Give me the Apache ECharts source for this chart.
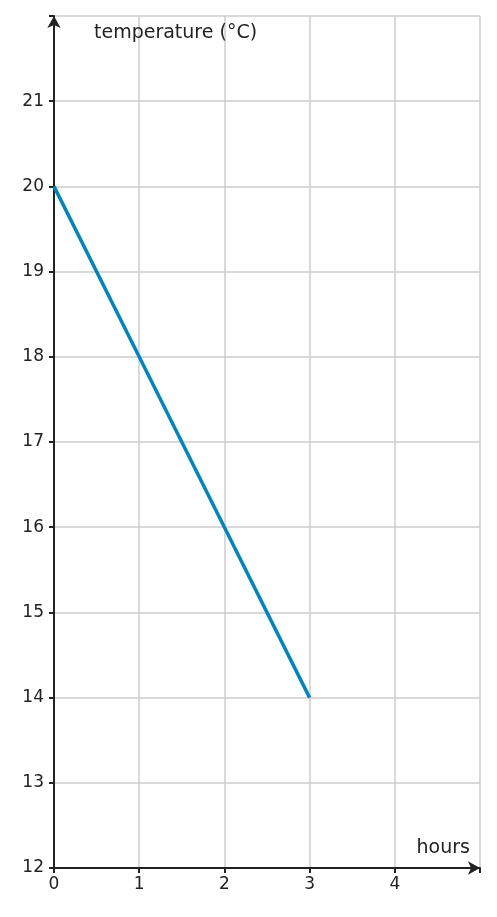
<!DOCTYPE html>
<html><head><meta charset="utf-8">
<script src="https://cdn.jsdelivr.net/npm/echarts@6/dist/echarts.min.js"></script>
<style>html,body{margin:0;padding:0;background:#fff}#c{width:497px;height:917px}</style>
</head><body><div id="c"></div>
<script>
const hours = [0, 1, 2, 3];
const temperature = [20, 18, 16, 14];
const xTicks = ['0','1','2','3','4'];
const yTicks = ['12','13','14','15','16','17','18','19','20','21'];
const chart = echarts.init(document.getElementById('c'));
const font = 'DejaVu Sans';
chart.setOption({
  animation: false,
  grid: {left: 54, right: 17, top: 16, bottom: 49, containLabel: false},
  xAxis: {
    type: 'value', min: 0, max: 5, interval: 1,
    name: 'hours', nameLocation: 'end', nameGap: 0,
    nameTextStyle: {fontFamily: font, fontSize: 19, color: '#222', align: 'right', verticalAlign: 'bottom', padding: [0, 10, 10, 0]},
    axisLine: {lineStyle: {color: '#222', width: 2}, symbol: ['none', 'arrow'], symbolSize: [10, 12], symbolOffset: [0, 0]},
    axisTick: {show: true, length: 5, lineStyle: {color: '#222', width: 2}},
    axisLabel: {fontFamily: font, fontSize: 17, color: '#222', margin: 8,
      formatter: v => xTicks[v] !== undefined ? xTicks[v] : ''},
    splitLine: {show: true, lineStyle: {color: '#ccc', width: 1.5}}
  },
  yAxis: {
    type: 'value', min: 12, max: 22, interval: 1,
    name: 'temperature (°C)', nameLocation: 'end', nameGap: 0,
    nameTextStyle: {fontFamily: font, fontSize: 19, color: '#222', align: 'left', verticalAlign: 'top', padding: [8, 0, 0, 40]},
    axisLine: {show: true, lineStyle: {color: '#222', width: 2}, symbol: ['none', 'arrow'], symbolSize: [10, 12]},
    axisTick: {show: true, length: 5, lineStyle: {color: '#222', width: 2}},
    axisLabel: {fontFamily: font, fontSize: 17, color: '#222', margin: 10,
      formatter: v => yTicks[v - 12] !== undefined ? yTicks[v - 12] : ''},
    splitLine: {show: true, lineStyle: {color: '#ccc', width: 1.5}}
  },
  series: [{
    type: 'line', data: hours.map((h, i) => [h, temperature[i]]),
    showSymbol: false, lineStyle: {color: '#0085C3', width: 3.5}
  }]
});
</script></body></html>
